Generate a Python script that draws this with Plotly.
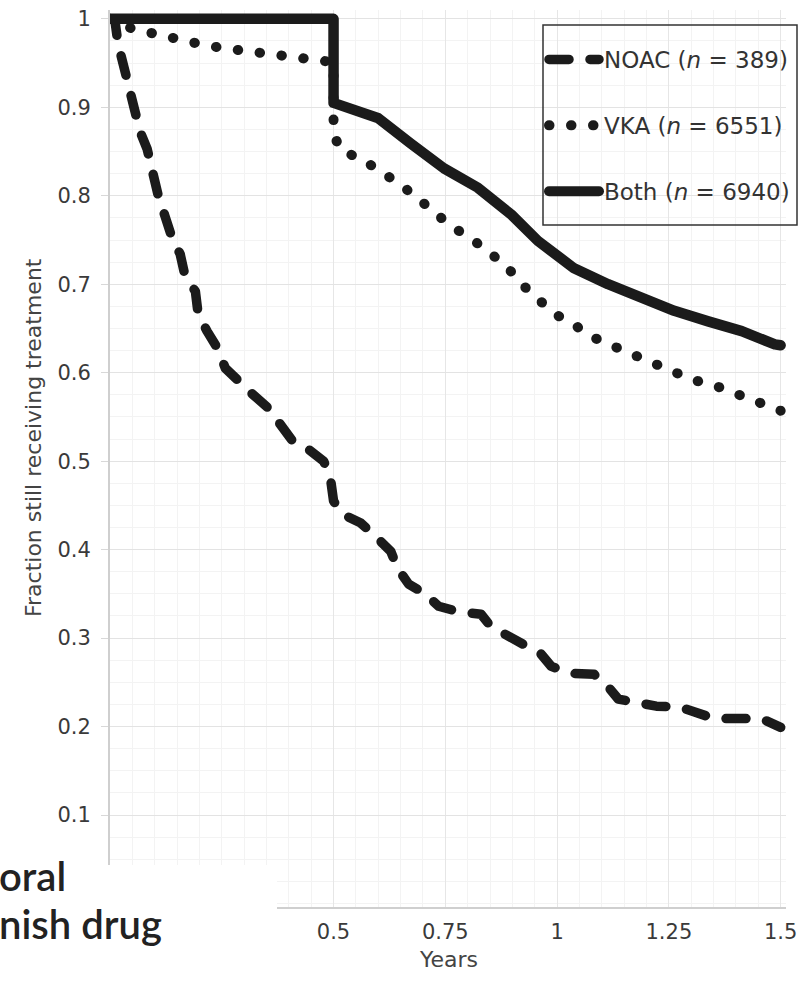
import plotly.graph_objects as go

# ---------------- data ----------------
noac_x = [0, 0.011, 0.018, 0.029, 0.040, 0.056, 0.067, 0.083, 0.094, 0.108, 0.123, 0.139,
          0.157, 0.168, 0.191, 0.197, 0.217, 0.240, 0.258, 0.291, 0.318, 0.354, 0.377,
          0.408, 0.442, 0.478, 0.493, 0.5, 0.52, 0.561, 0.590, 0.628, 0.643, 0.668,
          0.702, 0.735, 0.778, 0.830, 0.852, 0.892, 0.926, 0.964, 0.987, 1.031, 1.083,
          1.114, 1.137, 1.177, 1.222, 1.274, 1.318, 1.352, 1.413, 1.457, 1.5]
noac_y = [1.0, 0.998, 0.972, 0.949, 0.922, 0.896, 0.873, 0.853, 0.826, 0.800, 0.777, 0.752,
          0.734, 0.709, 0.692, 0.667, 0.647, 0.628, 0.605, 0.588, 0.576, 0.560, 0.543,
          0.523, 0.514, 0.500, 0.481, 0.455, 0.440, 0.430, 0.417, 0.398, 0.379, 0.361,
          0.351, 0.336, 0.330, 0.327, 0.313, 0.302, 0.293, 0.282, 0.268, 0.260, 0.259,
          0.245, 0.231, 0.226, 0.223, 0.222, 0.215, 0.209, 0.209, 0.209, 0.199]

vka_x = [0, 0.049, 0.101, 0.150, 0.197, 0.251, 0.298, 0.348, 0.399, 0.448, 0.5, 0.5,
         0.516, 0.561, 0.605, 0.646, 0.684, 0.722, 0.762, 0.807, 0.848, 0.886, 0.919,
         0.955, 0.993, 1.036, 1.076, 1.121, 1.166, 1.211, 1.256, 1.303, 1.350, 1.395,
         1.439, 1.5]
vka_y = [1.0, 0.989, 0.983, 0.976, 0.972, 0.967, 0.964, 0.960, 0.957, 0.954, 0.951, 0.870,
         0.851, 0.842, 0.829, 0.814, 0.799, 0.783, 0.766, 0.752, 0.736, 0.721, 0.701,
         0.683, 0.667, 0.655, 0.641, 0.631, 0.621, 0.610, 0.600, 0.592, 0.586, 0.577,
         0.570, 0.557]

both_x = [0, 0.5, 0.5, 0.516, 0.599, 0.673, 0.747, 0.823, 0.897, 0.957, 1.038, 1.114,
          1.188, 1.262, 1.338, 1.413, 1.487, 1.5]
both_y = [1.0, 1.0, 0.905, 0.902, 0.888, 0.859, 0.831, 0.809, 0.779, 0.749, 0.718, 0.700,
          0.684, 0.670, 0.658, 0.647, 0.632, 0.631]

series_names = ["NOAC (<i>n</i> = 389)", "VKA (<i>n</i> = 6551)", "Both (<i>n</i> = 6940)"]

x_ticks = [0.5, 0.75, 1, 1.25, 1.5]
x_tick_labels = ["0.5", "0.75", "1", "1.25", "1.5"]
y_ticks = [0.1, 0.2, 0.3, 0.4, 0.5, 0.6, 0.7, 0.8, 0.9, 1.0]
y_tick_labels = ["0.1", "0.2", "0.3", "0.4", "0.5", "0.6", "0.7", "0.8", "0.9", "1"]

# ---------------- figure ----------------
INK = "#1b1b1b"
fig = go.Figure()
fig.add_trace(go.Scatter(x=noac_x, y=noac_y, mode="lines", name=series_names[0],
                         legendgroup="a",
                         line=dict(color=INK, width=9.5, dash="20px,21px")))
fig.add_trace(go.Scatter(x=vka_x, y=vka_y, mode="lines", name=series_names[1],
                         legendgroup="b",
                         line=dict(color=INK, width=10, dash="0.5px,21.5px")))
fig.add_trace(go.Scatter(x=both_x, y=both_y, mode="lines", name=series_names[2],
                         legendgroup="c",
                         line=dict(color=INK, width=10.5)))

FONT = "DejaVu Sans, Liberation Sans, Arial, sans-serif"
L, R, T, B = 110, 16, 10, 76
PW, PH = 802 - L - R, 983 - T - B


def px(xp):
    return (xp - L) / PW


def py(yp):
    return (983 - B - yp) / PH


fig.update_layout(
    width=802, height=983, autosize=False,
    margin=dict(l=L, r=R, t=T, b=B, autoexpand=False),
    paper_bgcolor="white", plot_bgcolor="white",
    font=dict(family=FONT, size=21, color="#333333"),
    showlegend=True,
    legend=dict(x=px(544), y=py(38), xanchor="left", yanchor="top",
                bgcolor="rgba(0,0,0,0)", borderwidth=0,
                itemwidth=50, tracegroupgap=33,
                font=dict(family=FONT, size=23, color="#333333")),
    xaxis=dict(range=[0, 1.512], tickvals=x_ticks, ticktext=x_tick_labels,
               automargin=False,
               showgrid=True, gridcolor="#e6e6e6", gridwidth=1,
               minor=dict(dtick=0.05, showgrid=True, gridcolor="#f3f3f3"),
               showline=True, linecolor="#cfcfcf", linewidth=2,
               ticks="", ticklabelstandoff=5, zeroline=False,
               tickfont=dict(size=21, color="#3a3a3a")),
    yaxis=dict(range=[-0.004, 1.01], tickvals=y_ticks, ticktext=y_tick_labels,
               automargin=False,
               showgrid=True, gridcolor="#e3e3e3", gridwidth=1,
               minor=dict(dtick=0.025, showgrid=True, gridcolor="#f3f3f3"),
               showline=True, linecolor="#cfcfcf", linewidth=2,
               ticks="outside", ticklen=7, tickcolor="#d8d8d8",
               ticklabelstandoff=6, zeroline=False,
               tickfont=dict(size=21, color="#3a3a3a")),
    shapes=[
        # legend frame
        dict(type="rect", xref="paper", yref="paper",
             x0=px(543), x1=px(797), y0=py(225), y1=py(25),
             line=dict(color="#333333", width=1.5), fillcolor="rgba(0,0,0,0)",
             layer="above"),
        # white patch from the page (covers lower-left corner)
        dict(type="rect", xref="paper", yref="paper",
             x0=-1, x1=px(277), y0=-1, y1=py(865),
             line=dict(width=0), fillcolor="white", layer="above"),
    ],
    annotations=[
        # axis titles
        dict(text="Years", xref="paper", yref="paper",
             x=px(448), y=py(960), xanchor="center", yanchor="middle",
             showarrow=False, font=dict(family=FONT, size=22, color="#444444")),
        dict(text="Fraction still receiving treatment", xref="paper", yref="paper",
             x=px(33), y=py(438), xanchor="center", yanchor="middle", textangle=-90,
             showarrow=False, font=dict(family=FONT, size=22, color="#444444")),
        # fragment of the surrounding page text
        dict(text="oral", xref="paper", yref="paper",
             x=px(-3), y=py(850), xanchor="left", yanchor="top",
             showarrow=False,
             font=dict(family="Lato, sans-serif", size=40, color="#222222", weight=600)),
        dict(text="nish drug", xref="paper", yref="paper",
             x=px(-3), y=py(898), xanchor="left", yanchor="top",
             showarrow=False,
             font=dict(family="Lato, sans-serif", size=40, color="#222222", weight=600)),
    ],
)

post = """
document.body.style.margin='0'; document.body.style.overflow='hidden';
function rc(){document.querySelectorAll('.js-line').forEach(function(p){
  p.style.strokeLinecap='round'; p.style.strokeLinejoin='round';});}
rc(); var gd=document.getElementsByClassName('plotly-graph-div')[0];
if(gd && gd.on){gd.on('plotly_afterplot', rc);}
"""
fig.write_html("out.html", post_script=post, config={"displayModeBar": False})
